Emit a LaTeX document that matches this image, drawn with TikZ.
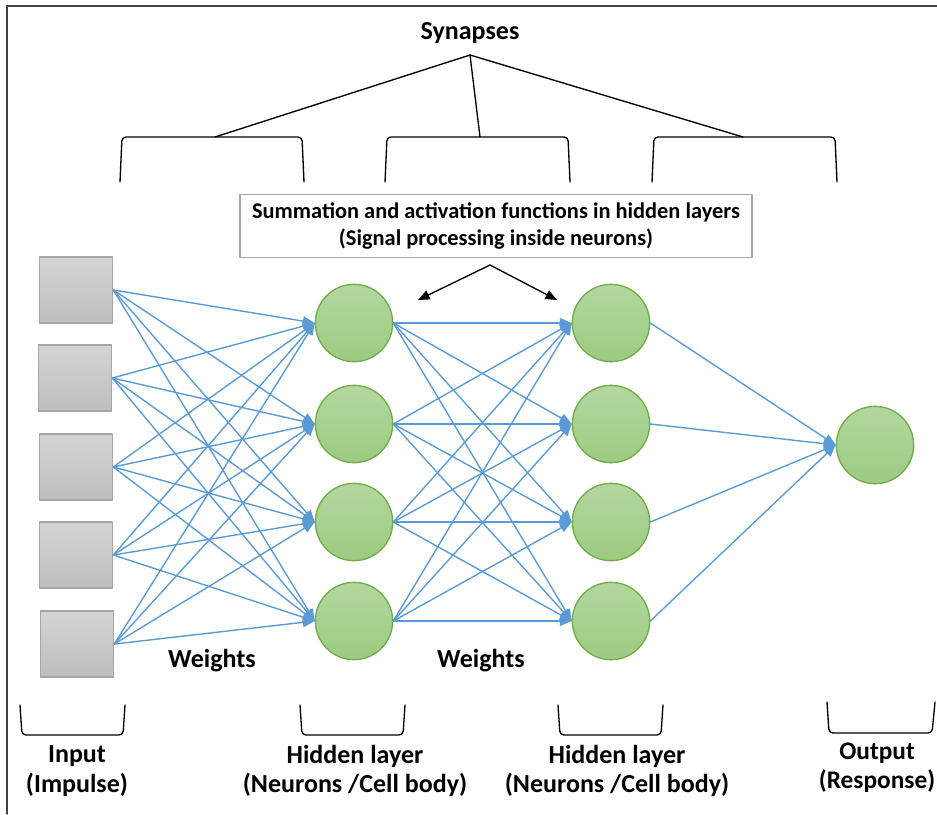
\documentclass[tikz,border=0pt]{standalone}
\usepackage{fontspec}
\setmainfont{Carlito}
\usetikzlibrary{arrows}

\definecolor{synblue}{HTML}{5B9BD5}
\definecolor{cellgreen}{HTML}{70AD47}
\definecolor{celltop}{HTML}{B3D7A0}
\definecolor{cellbot}{HTML}{9CCB80}
\definecolor{boxline}{HTML}{A6A6A6}
\definecolor{boxtop}{HTML}{D4D4D4}
\definecolor{boxbot}{HTML}{BEBEBE}

\tikzset{
  neuron/.style={circle,draw=cellgreen,line width=1pt,top color=celltop,bottom color=cellbot,minimum size=58pt,inner sep=0pt},
  impulse/.style={rectangle,draw=boxline,line width=1pt,top color=boxtop,bottom color=boxbot,minimum width=55pt,minimum height=49.5pt,inner sep=0pt},
  weight/.style={->,draw=synblue,line width=1.05pt},
  lbl/.style={font=\fontsize{16.8}{20.5}\selectfont\bfseries,align=center},
  biglbl/.style={font=\fontsize{19.5}{22}\selectfont\bfseries,align=center},
  brace/.style={line width=1pt,rounded corners=3pt},
}

\begin{document}
\begin{tikzpicture}[line cap=round,line join=round,>=triangle 45,x=0.75pt,y=-0.75pt]
\useasboundingbox (0,0) rectangle (937,814);
\draw [line width=1.3pt,color=black!75] (7,814)-- (7,6)-- (937,6);
% synapses
\node[biglbl] (syn) at (470,33) {Synapses};
\coordinate (synroot) at (470,55);
\coordinate (b1) at (215,137);
\coordinate (b2) at (480,137);
\coordinate (b3) at (743,137);
\draw [line width=1pt] (synroot)-- (b1);
\draw [line width=1pt] (synroot)-- (b2);
\draw [line width=1pt] (synroot)-- (b3);
\draw [brace] (120,182)-- (122,137)-- (302,137)-- (304,182);
\draw [brace] (385,182)-- (387,137)-- (568,137)-- (570,182);
\draw [brace] (652,182)-- (654,137)-- (835,137)-- (837,182);
% hidden layer note
\node[lbl,draw=boxline,line width=1pt,minimum width=384pt,minimum height=47pt,inner sep=2pt] (note) at (496,226) {Summation and activation functions in hidden layers\\(Signal processing inside neurons)};
\coordinate (noteroot) at (490,265);
\coordinate (n1) at (418,300);
\coordinate (n2) at (557,300);
\draw [->,line width=1pt] (noteroot)-- (n1);
\draw [->,line width=1pt] (noteroot)-- (n2);
% layers
\node[impulse] (i1) at (76,290) {};
\node[impulse] (i2) at (75,378) {};
\node[impulse] (i3) at (76,467) {};
\node[impulse] (i4) at (76,555) {};
\node[impulse] (i5) at (77,644) {};
\node[neuron] (h1) at (354,323) {};
\node[neuron] (h2) at (354,424) {};
\node[neuron] (h3) at (354,522) {};
\node[neuron] (h4) at (354,621) {};
\node[neuron] (g1) at (611,323) {};
\node[neuron] (g2) at (611,424) {};
\node[neuron] (g3) at (611,522) {};
\node[neuron] (g4) at (611,621) {};
\node[neuron] (out) at (875,445) {};
\foreach \a in {1,...,5}
  \foreach \b in {1,...,4}
    \draw [weight] (i\a.east)-- (h\b.west);
\foreach \a in {1,...,4}
  \foreach \b in {1,...,4}
    \draw [weight] (h\a.east)-- (g\b.west);
\foreach \a in {1,...,4}
  \draw [weight] (g\a.east)-- (out.west);
\node[biglbl] (w1) at (212,661) {Weights};
\node[biglbl] (w2) at (481,661) {Weights};
% bottom labels
\draw [brace] (20,705)-- (22,735)-- (123,735)-- (125,705);
\draw [brace] (300,705)-- (302,735)-- (403,735)-- (405,705);
\draw [brace] (558,705)-- (560,735)-- (661,735)-- (663,705);
\draw [brace] (827,702)-- (829,733)-- (932,733)-- (935,702);
\node[biglbl] (inlbl) at (77,771) {Input\\(Impulse)};
\node[biglbl] (h1lbl) at (355,771) {Hidden layer\\(Neurons /Cell body)};
\node[biglbl] (h2lbl) at (617,771) {Hidden layer\\(Neurons /Cell body)};
\node[biglbl,font=\fontsize{19}{22}\selectfont\bfseries] (outlbl) at (877,768) {Output\\(Response)};
\end{tikzpicture}
\end{document}
